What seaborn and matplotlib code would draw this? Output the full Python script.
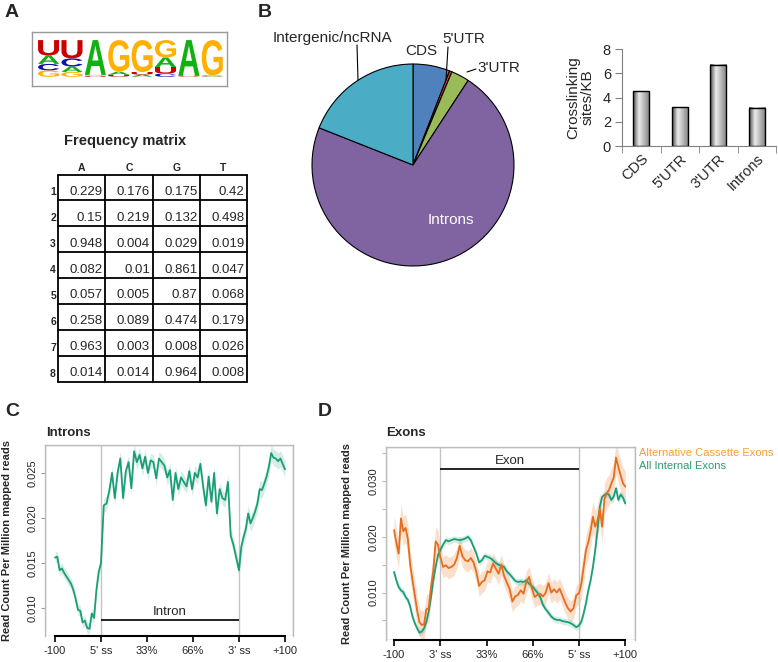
import numpy as np
import pandas as pd
import matplotlib
matplotlib.use("Agg")
import matplotlib.pyplot as plt
import seaborn as sns
from matplotlib.textpath import TextPath
from matplotlib.patches import PathPatch, Rectangle
from matplotlib.font_manager import FontProperties
from matplotlib.transforms import Affine2D

# ---- data -------------------------------------------------------------
# A: motif frequency matrix (rows = positions 1..8)
MATRIX_COLS = ["A", "C", "G", "T"]
FREQ_A = [0.229, 0.15, 0.948, 0.082, 0.057, 0.258, 0.963, 0.014]
FREQ_C = [0.176, 0.219, 0.004, 0.01, 0.005, 0.089, 0.003, 0.014]
FREQ_G = [0.175, 0.132, 0.029, 0.861, 0.87, 0.474, 0.008, 0.964]
FREQ_T = [0.42, 0.498, 0.019, 0.047, 0.068, 0.179, 0.026, 0.008]

# B: crosslink site distribution
PIE_LABELS = ["CDS", "5'UTR", "3'UTR", "Introns", "Intergenic/ncRNA"]
PIE_SHARES = [5.9, 0.4, 2.9, 71.8, 19.0]
BAR_CATS = ["CDS", "5'UTR", "3'UTR", "Introns"]
BAR_VALUES = [4.5, 3.2, 6.7, 3.15]

# C / D: metagene positions
UP_POS = np.arange(-100, 0, 5)        # nt upstream
BODY_PCT = np.arange(0, 101, 2)       # % of intron / exon body
DOWN_POS = np.arange(5, 101, 5)       # nt downstream

C_UP = [0.0156, 0.0157, 0.0142, 0.0144, 0.0139, 0.0135, 0.0131, 0.0127, 0.0120, 0.0110,
        0.0098, 0.0097, 0.0084, 0.0086, 0.0078, 0.0077, 0.0094, 0.0089, 0.0120, 0.0140]
C_INTRON = [0.0150, 0.0214, 0.0216, 0.0230, 0.0250, 0.0222, 0.0250, 0.0266, 0.0222, 0.0252,
            0.0262, 0.0233, 0.0274, 0.0262, 0.0270, 0.0255, 0.0268, 0.0250, 0.0264, 0.0262,
            0.0244, 0.0266, 0.0262, 0.0258, 0.0245, 0.0253, 0.0220, 0.0250, 0.0232, 0.0245,
            0.0240, 0.0235, 0.0252, 0.0232, 0.0250, 0.0245, 0.0260, 0.0235, 0.0214, 0.0246,
            0.0218, 0.0250, 0.0205, 0.0232, 0.0222, 0.0220, 0.0240, 0.0180, 0.0170, 0.0156,
            0.0142]
C_DOWN = [0.0168, 0.0179, 0.0188, 0.0205, 0.0194, 0.0200, 0.0207, 0.0216, 0.0232, 0.0231,
          0.0238, 0.0246, 0.0257, 0.0272, 0.0267, 0.0266, 0.0263, 0.0266, 0.0260, 0.0254]
C_BAND = [0.0006, 0.0008, 0.0009]

D_ALT_UP = [0.0212, 0.0190, 0.0170, 0.0233, 0.0210, 0.0216, 0.0196, 0.0150, 0.0122, 0.0095,
            0.0068, 0.0047, 0.0042, 0.0043, 0.0070, 0.0072, 0.0110, 0.0140, 0.0192, 0.0186]
D_ALT_EXON = [0.0164, 0.0146, 0.0149, 0.0144, 0.0146, 0.0150, 0.0162, 0.0184, 0.0165, 0.0158,
              0.0156, 0.0162, 0.0154, 0.0137, 0.0112, 0.0119, 0.0122, 0.0138, 0.0136, 0.0152,
              0.0143, 0.0134, 0.0150, 0.0130, 0.0118, 0.0106, 0.0084, 0.0093, 0.0096, 0.0104,
              0.0098, 0.0119, 0.0128, 0.0108, 0.0092, 0.0096, 0.0098, 0.0093, 0.0100, 0.0117,
              0.0100, 0.0106, 0.0100, 0.0107, 0.0095, 0.0082, 0.0072, 0.0066, 0.0072, 0.0095,
              0.0099]
D_ALT_DOWN = [0.0116, 0.0146, 0.0176, 0.0190, 0.0210, 0.0236, 0.0218, 0.0230, 0.0250, 0.0218,
              0.0268, 0.0278, 0.0284, 0.0296, 0.0306, 0.0342, 0.0325, 0.0310, 0.0296, 0.0290]
D_ALL_UP = [0.0137, 0.0122, 0.0110, 0.0104, 0.0101, 0.0092, 0.0087, 0.0075, 0.0057, 0.0045,
            0.0036, 0.0028, 0.0030, 0.0036, 0.0048, 0.0066, 0.0092, 0.0122, 0.0146, 0.0167]
D_ALL_EXON = [0.0176, 0.0186, 0.0194, 0.0192, 0.0194, 0.0196, 0.0195, 0.0194, 0.0195, 0.0197,
              0.0200, 0.0194, 0.0182, 0.0170, 0.0154, 0.0158, 0.0166, 0.0164, 0.0162, 0.0158,
              0.0153, 0.0150, 0.0148, 0.0146, 0.0138, 0.0133, 0.0127, 0.0121, 0.0119, 0.0120,
              0.0119, 0.0122, 0.0116, 0.0112, 0.0106, 0.0100, 0.0092, 0.0078, 0.0070, 0.0064,
              0.0057, 0.0053, 0.0051, 0.0051, 0.0049, 0.0048, 0.0047, 0.0045, 0.0042, 0.0038,
              0.0041]
D_ALL_DOWN = [0.0048, 0.0063, 0.0081, 0.0104, 0.0122, 0.0146, 0.0176, 0.0212, 0.0254, 0.0272,
              0.0275, 0.0278, 0.0275, 0.0266, 0.0272, 0.0287, 0.0266, 0.0276, 0.0270, 0.0260]
D_ALT_BAND = [0.0026, 0.0019, 0.0028]
D_ALL_BAND = [0.0006, 0.0006, 0.0007]

META_TICKS_C = ["-100", "5' ss", "33%", "66%", "3' ss", "+100"]
META_TICKS_D = ["-100", "3' ss", "33%", "66%", "5' ss", "+100"]

# ---- style ------------------------------------------------------------
GREEN = "#1b9e77"
ORANGE = "#e56d1c"
LOGO_COLORS = {"A": "#12b012", "C": "#1010b0", "G": "#ffb000", "U": "#cc0000"}
PIE_COLORS = ["#4f81bd", "#e0403a", "#9bbb59", "#8064a2", "#4bacc6"]

W, H = 778, 662
sns.set_style("ticks")
plt.rcParams['font.family'] = ['Liberation Sans', 'DejaVu Sans']

fig = plt.figure(figsize=(W / 100, H / 100), dpi=100)


def box(x0, y0, x1, y1):
    # pixel box (top-left origin) -> figure fraction rect
    return [x0 / W, 1 - y1 / H, (x1 - x0) / W, (y1 - y0) / H]


def meta_x(up, body, down):
    # flank = 1 unit, body = 3 units
    return np.concatenate([1 + np.asarray(up) / 100, 1 + 3 * np.asarray(body) / 100,
                           4 + np.asarray(down) / 100])


def band(vals, widths):
    n_up, n_body = len(UP_POS), len(BODY_PCT)
    w = np.concatenate([np.full(n_up, widths[0]), np.full(n_body, widths[1]),
                        np.full(len(vals) - n_up - n_body, widths[2])])
    v = np.asarray(vals)
    return v - w, v + w


# ---- A: sequence logo ---------------------------------------------------
ax = fig.add_axes(box(32, 32, 227, 86))
ax.set_xlim(-0.21, 8.13)
ax.set_ylim(-0.25, 1.22)
ax.set_xticks([])
ax.set_yticks([])
for s in ax.spines.values():
    s.set_color("#9a9a9a")
    s.set_linewidth(1)
fp = FontProperties(family="Liberation Sans", weight="bold")
for i in range(8):
    col = {"A": FREQ_A[i], "C": FREQ_C[i], "G": FREQ_G[i], "U": FREQ_T[i]}
    y = 0.0
    for base, f in sorted(col.items(), key=lambda kv: kv[1]):
        tp = TextPath((0, 0), base, size=1, prop=fp)
        bb = tp.get_extents()
        tr = (Affine2D().translate(-bb.x0, -bb.y0)
              .scale(0.9 / bb.width, f / bb.height).translate(i + 0.05, y))
        ax.add_patch(PathPatch(tr.transform_path(tp), color=LOGO_COLORS[base], lw=0))
        y += f

# ---- B: pie -------------------------------------------------------------
ax = fig.add_axes(box(311, 63, 515, 267))
ax.pie(PIE_SHARES, colors=PIE_COLORS, startangle=90, counterclock=False,
       wedgeprops=dict(edgecolor="black", linewidth=0.8))
ax.set_xlim(-1.01, 1.01)
ax.set_ylim(-1.01, 1.01)

# ---- B: bar chart -------------------------------------------------------
ax = fig.add_axes(box(622, 49, 776, 146))
df_bar = pd.DataFrame({"region": BAR_CATS, "sites": BAR_VALUES})
sns.barplot(data=df_bar, x="region", y="sites", color="#bbbbbb", width=0.42,
            edgecolor="black", linewidth=1, ax=ax)
grad = np.interp(np.linspace(0, 1, 60), [0, 0.35, 1], [0.3, 0.92, 0.5]).reshape(1, -1)
for p in ax.patches:
    bb = p.get_bbox()
    ax.imshow(grad, extent=[bb.x0, bb.x1, bb.y0, bb.y1], aspect="auto", cmap="gray",
              vmin=0, vmax=1, zorder=p.get_zorder() - 0.1)
    p.set_facecolor("none")
ax.set_xlim(-0.5, 3.5)
ax.set_ylim(0, 8)
ax.set_yticks([0, 2, 4, 6, 8])
ax.set_xticks(range(len(BAR_CATS)))
ax.set_xticklabels(BAR_CATS, rotation=45, ha="right", rotation_mode="anchor")
ax.set_xticks(np.arange(-0.5, len(BAR_CATS), 1), minor=True)
ax.tick_params(axis="x", which="major", length=0, pad=4, labelsize=10.5)
ax.tick_params(axis="x", which="minor", length=5, color="#808080")
ax.tick_params(axis="y", length=5, color="#808080", labelsize=10.5, pad=3)
sns.despine(ax=ax)
for s in ["left", "bottom"]:
    ax.spines[s].set_color("#808080")
ax.set_xlabel("")
ax.set_ylabel("Crosslinking\nsites/KB", fontsize=11, linespacing=1.0)
ax.yaxis.set_label_coords(-0.18, 0.5)


# ---- C / D: metagene profiles -------------------------------------------
def style_meta(ax, ticklabels, ytick_color):
    ax.set_xticks(range(6))
    ax.set_xticklabels(ticklabels)
    ax.tick_params(axis="x", length=4, width=1.2, color="black", labelsize=8, pad=3)
    ax.tick_params(axis="y", length=3, color=ytick_color, labelsize=8, pad=2)
    plt.setp(ax.get_yticklabels(), rotation=90, va="center")
    for s in ax.spines.values():
        s.set_color("#bdbdbd")
        s.set_linewidth(1)
    ax.spines["bottom"].set_color("black")
    ax.spines["bottom"].set_linewidth(1.5)
    ax.spines["bottom"].set_bounds(0, 5)
    ax.add_patch(Rectangle((0, 0), 1, 1, transform=ax.transAxes, fill=False,
                           ec="#bdbdbd", lw=1, zorder=0.5))
    ax.axvline(1, color="#c4c4c4", lw=1, zorder=1)
    ax.axvline(4, color="#c4c4c4", lw=1, zorder=1)
    ax.set_xlabel("")
    ax.set_ylabel("Read Count Per Million mapped reads", fontsize=8, fontweight="bold")


u = meta_x(UP_POS, BODY_PCT, DOWN_POS)

axc = fig.add_axes(box(45, 445, 293, 636))
c_vals = C_UP + C_INTRON + C_DOWN
lo, hi = band(c_vals, C_BAND)
axc.fill_between(u, lo, hi, color=GREEN, alpha=0.18, lw=0)
df_c = pd.DataFrame({"u": u, "rpm": c_vals})
sns.lineplot(data=df_c, x="u", y="rpm", color=GREEN, lw=1.3, ax=axc)
axc.set_xlim(-0.217, 5.174)
axc.set_ylim(0.0069, 0.0281)
axc.set_yticks([0.010, 0.015, 0.020, 0.025])
axc.set_yticklabels(["0.010", "0.015", "0.020", "0.025"])
style_meta(axc, META_TICKS_C, "#9a9a9a")
axc.yaxis.set_label_coords(-0.133, 0.5)
axc.hlines(0.00867, 1, 4, color="black", lw=1.2)
axc.text(2.5, 0.0089, "Intron", ha="center", va="bottom", fontsize=9.5)

axd = fig.add_axes(box(386, 447, 635, 640))
alt_vals = D_ALT_UP + D_ALT_EXON + D_ALT_DOWN
all_vals = D_ALL_UP + D_ALL_EXON + D_ALL_DOWN
lo, hi = band(alt_vals, D_ALT_BAND)
axd.fill_between(u, lo, hi, color="#f3b88e", alpha=0.45, lw=0)
lo, hi = band(all_vals, D_ALL_BAND)
axd.fill_between(u, lo, hi, color=GREEN, alpha=0.18, lw=0)
df_d = pd.DataFrame({"u": np.concatenate([u, u]), "rpm": all_vals + alt_vals,
                     "set": ["All Internal Exons"] * len(u) + ["Alternative Cassette Exons"] * len(u)})
sns.lineplot(data=df_d, x="u", y="rpm", hue="set", lw=1.3, legend=False, ax=axd,
             palette={"All Internal Exons": GREEN, "Alternative Cassette Exons": ORANGE})
axd.set_xlim(-0.173, 5.21)
axd.set_ylim(0.0015, 0.0361)
axd.set_yticks([0.005, 0.010, 0.015, 0.020, 0.025, 0.030, 0.035])
axd.set_yticklabels(["", "0.010", "", "0.020", "", "0.030", ""])
style_meta(axd, META_TICKS_D, "#d2b48c")
axd.yaxis.set_label_coords(-0.135, 0.5)
axd.hlines(0.0321, 1, 4, color="black", lw=1.2)
axd.text(2.5, 0.0325, "Exon", ha="center", va="bottom", fontsize=9.5)

# ---- overlay: panel letters, table, labels -------------------------------
lay = fig.add_axes([0, 0, 1, 1])
lay.set_xlim(0, W)
lay.set_ylim(H, 0)
lay.axis("off")

for letter, (x, y) in {"A": (5, 4), "B": (258, 4), "C": (5, 403), "D": (318, 403)}.items():
    lay.text(x, y, letter, fontsize=14, fontweight="bold", va="top", ha="left")

# frequency matrix table
TX0, TY0, CW, RH = 58, 174.5, 47.3, 25.9
lay.text(125, 141, "Frequency matrix", ha="center", va="center", fontsize=10.5, fontweight="bold")
matrix = [FREQ_A, FREQ_C, FREQ_G, FREQ_T]
for c, base in enumerate(MATRIX_COLS):
    lay.text(TX0 + CW * (c + 0.5), 168, base, ha="center", va="center", fontsize=7.5,
             fontweight="bold")
for r in range(8):
    yb = TY0 + RH * (r + 1)
    lay.text(TX0 - 2, yb - 8, str(r + 1), ha="right", va="center", fontsize=7.5,
             fontweight="bold")
    for c in range(4):
        lay.text(TX0 + CW * (c + 1) - 2.5, yb - 8.5, f"{matrix[c][r]:g}", ha="right",
                 va="center", fontsize=9.5)
for r in range(9):
    lay.plot([TX0, TX0 + 4 * CW], [TY0 + RH * r] * 2, color="black", lw=1.3)
for c in range(5):
    lay.plot([TX0 + CW * c] * 2, [TY0, TY0 + 8 * RH], color="black", lw=1.3)

# pie labels
lay.text(332, 38, "Intergenic/ncRNA", ha="center", va="center", fontsize=11)
lay.plot([357, 358], [45, 80], color="black", lw=0.8)
lay.text(421, 51, "CDS", ha="center", va="center", fontsize=11)
lay.text(464, 39, "5'UTR", ha="center", va="center", fontsize=11)
lay.plot([448, 446], [47, 80], color="black", lw=0.8)
lay.text(477, 68, "3'UTR", ha="left", va="center", fontsize=11)
lay.plot([467, 476], [72, 69], color="black", lw=0.8)
lay.text(451, 220, "Introns", ha="center", va="center", fontsize=11, color="white")

# metagene titles and legend
lay.text(46, 433, "Introns", ha="left", va="center", fontsize=9.5, fontweight="bold")
lay.text(386, 433, "Exons", ha="left", va="center", fontsize=9.5, fontweight="bold")
lay.text(639, 453, "Alternative Cassette Exons", ha="left", va="center", fontsize=8,
         color="#f5a030")
lay.text(639, 466, "All Internal Exons", ha="left", va="center", fontsize=8, color="#2a9d70")

fig.savefig("out.png", dpi=100, facecolor="white")
